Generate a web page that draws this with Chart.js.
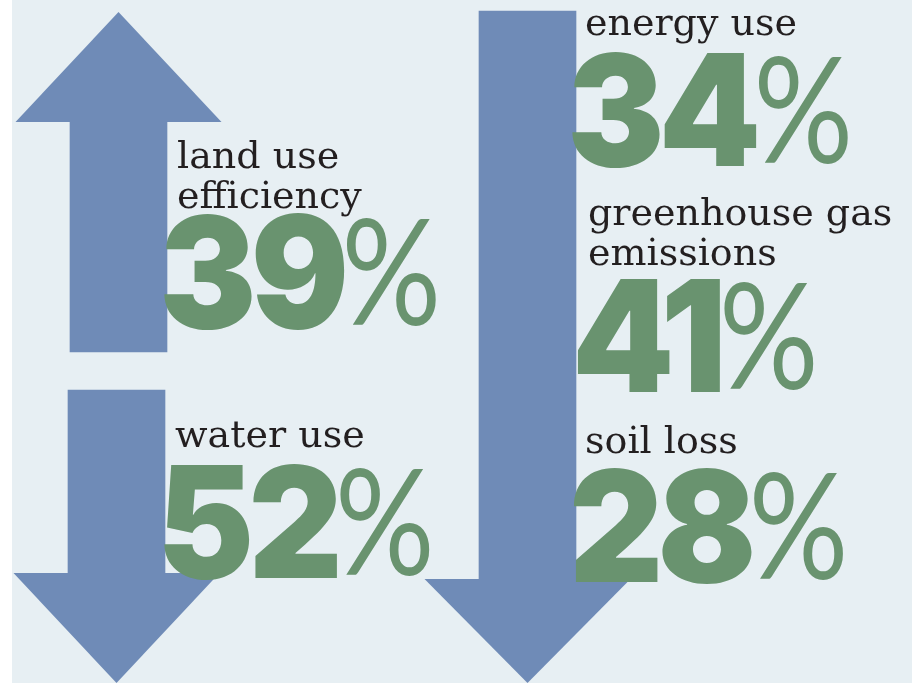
<!DOCTYPE html>
<html>
<head>
<meta charset="utf-8">
<script src="https://cdn.jsdelivr.net/npm/chart.js@4/dist/chart.umd.min.js"></script>
<style>
  html, body { margin: 0; padding: 0; background: #ffffff; }
  canvas { display: block; }
</style>
</head>
<body>
<canvas id="infographic" width="912" height="683"></canvas>
<script>
// Metrics shown on the infographic
const metricLabels = [['land use', 'efficiency'], ['water use'], ['energy use'], ['greenhouse gas', 'emissions'], ['soil loss']];
const metricValues = [39, 52, 34, 41, 28];
const metricArrow = [0, 1, 2, 2, 2];          // which arrow each metric sits beside

// Arrows (one up, two down)
const arrowNames = ['increase', 'decrease', 'decrease'];
const arrowDirections = ['up', 'down', 'down'];

// Layout in scale units (the scales run 0..912 by 0..683, y from the top)
const layout = {
    panelLeft: 12,
    shaftWidth: 97,
    headHalfWidth: 103,
    arrows: [
        { x: 118.5, shaft: [122, 352], tip: 12 },
        { x: 116.5, shaft: [390, 573], tip: 683 },
        { x: 527.5, shaft: [11, 579], tip: 683 }
    ],
    texts: [
        { x: 177, lines: [168, 208], numX: 159, numY: 328 },
        { x: 175, lines: [447], numX: 157, numY: 578 },
        { x: 585, lines: [35], numX: 567, numY: 166 },
        { x: 588, lines: [225, 265], numX: 572, numY: 392 },
        { x: 585, lines: [453], numX: 569, numY: 582 }
    ]
};

const colors = {
    page: '#ffffff',
    panel: '#e7eff3',
    arrow: '#6f8bb7',
    number: '#69936f',
    label: '#231f20'
};

const labelFont = '38px "DejaVu Serif"';
const numberFont = '900 155px Inter';
const numberSqueeze = 0.94;
const percentFont = '400 148px Lato';

// background panel
const panelPlugin = {
    id: 'panel',
    beforeDraw(chart) {
        const { ctx, scales: { x, y } } = chart;
        ctx.save();
        ctx.fillStyle = colors.page;
        ctx.fillRect(0, 0, chart.width, chart.height);
        ctx.fillStyle = colors.panel;
        const left = x.getPixelForValue(layout.panelLeft);
        ctx.fillRect(left, y.getPixelForValue(0), x.getPixelForValue(912) - left, y.getPixelForValue(683) - y.getPixelForValue(0));
        ctx.restore();
    }
};

// arrow heads on top of the shaft bars
const arrowHeadPlugin = {
    id: 'arrowHeads',
    afterDatasetsDraw(chart) {
        const { ctx, scales: { x, y } } = chart;
        const meta = chart.getDatasetMeta(0);
        ctx.save();
        ctx.fillStyle = colors.arrow;
        meta.data.forEach((bar, i) => {
            const a = layout.arrows[i];
            const half = x.getPixelForValue(layout.headHalfWidth) - x.getPixelForValue(0);
            const up = arrowDirections[i] === 'up';
            const baseY = up ? Math.min(bar.y, bar.base) : Math.max(bar.y, bar.base);
            const tipY = y.getPixelForValue(a.tip);
            ctx.beginPath();
            ctx.moveTo(bar.x - half, baseY);
            ctx.lineTo(bar.x + half, baseY);
            ctx.lineTo(bar.x, tipY);
            ctx.closePath();
            ctx.fill();
        });
        ctx.restore();
    }
};

// labels and big percentages
const textPlugin = {
    id: 'metricText',
    afterDatasetsDraw(chart) {
        const { ctx, scales: { x, y } } = chart;
        ctx.save();
        ctx.textBaseline = 'alphabetic';
        ctx.textAlign = 'left';
        metricValues.forEach((v, i) => {
            const t = layout.texts[i];
            ctx.fillStyle = colors.label;
            ctx.font = labelFont;
            metricLabels[i].forEach((line, j) => {
                ctx.fillText(line, x.getPixelForValue(t.x), y.getPixelForValue(t.lines[j]));
            });

            ctx.fillStyle = colors.number;
            ctx.font = numberFont;
            if ('letterSpacing' in ctx) ctx.letterSpacing = '-6px';
            const nx = x.getPixelForValue(t.numX);
            const ny = y.getPixelForValue(t.numY);
            const w = ctx.measureText(String(v)).width * numberSqueeze;
            ctx.save();
            ctx.translate(nx, ny);
            ctx.scale(numberSqueeze, 1);
            ctx.fillText(String(v), 0, 0);
            ctx.restore();
            if ('letterSpacing' in ctx) ctx.letterSpacing = '0px';

            ctx.font = percentFont;
            ctx.save();
            ctx.translate(nx + w - 2, ny - 3);
            ctx.scale(0.84, 1.0);
            ctx.fillText('%', 0, 0);
            ctx.restore();
        });
        ctx.restore();
    }
};

new Chart(document.getElementById('infographic'), {
    type: 'bar',
    data: {
        datasets: [{
            label: 'arrows',
            data: layout.arrows.map((a, i) => ({ x: a.x, y: a.shaft, name: arrowNames[i] })),
            backgroundColor: colors.arrow,
            borderWidth: 0,
            barThickness: layout.shaftWidth,
            borderSkipped: false
        }]
    },
    options: {
        responsive: false,
        animation: false,
        layout: { padding: 0 },
        plugins: {
            legend: { display: false },
            tooltip: { enabled: false }
        },
        scales: {
            x: { type: 'linear', min: 0, max: 912, display: false, offset: false },
            y: { type: 'linear', min: 0, max: 683, reverse: true, display: false }
        }
    },
    plugins: [panelPlugin, arrowHeadPlugin, textPlugin]
});
</script>
</body>
</html>
